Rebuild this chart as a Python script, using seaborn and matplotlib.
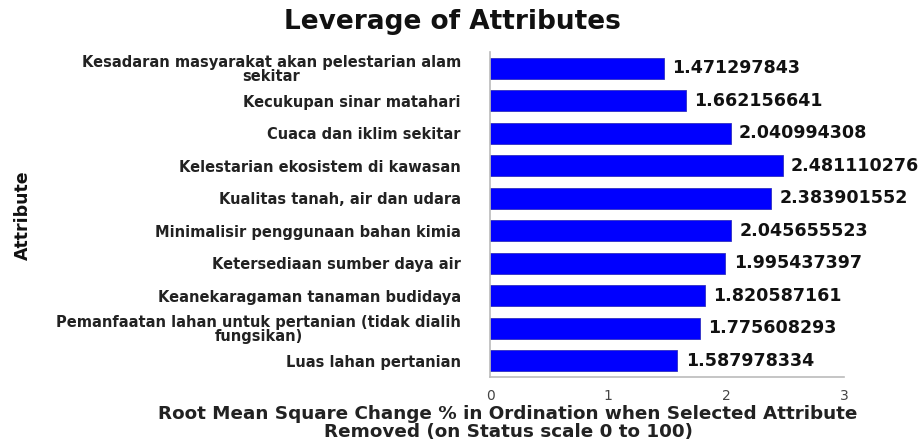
import matplotlib
matplotlib.use("Agg")
import matplotlib.pyplot as plt
import seaborn as sns
import pandas as pd

attributes = [
    "Kesadaran masyarakat akan pelestarian alam\nsekitar",
    "Kecukupan sinar matahari",
    "Cuaca dan iklim sekitar",
    "Kelestarian ekosistem di kawasan",
    "Kualitas tanah, air dan udara",
    "Minimalisir penggunaan bahan kimia",
    "Ketersediaan sumber daya air",
    "Keanekaragaman tanaman budidaya",
    "Pemanfaatan lahan untuk pertanian (tidak dialih\nfungsikan)",
    "Luas lahan pertanian",
]
values = [1.471297843, 1.662156641, 2.040994308, 2.481110276, 2.383901552,
          2.045655523, 1.995437397, 1.820587161, 1.775608293, 1.587978334]
value_labels = ["1.471297843", "1.662156641", "2.040994308", "2.481110276", "2.383901552",
                "2.045655523", "1.995437397", "1.820587161", "1.775608293", "1.587978334"]
x_ticks = [0, 1, 2, 3]

sns.set_theme(style="white")
plt.rcParams['font.family'] = ['DejaVu Sans']

df = pd.DataFrame({"Attribute": attributes, "Value": values})

fig = plt.figure(figsize=(9.22, 4.42), dpi=100)
ax = fig.add_axes([490/922, 1-377/442, (844-490)/922, (377-52)/442])
sns.barplot(data=df, x="Value", y="Attribute", orient="h", color="#0000FF",
            saturation=1, width=0.66, edgecolor="#3030C0", linewidth=0.6, ax=ax)

ax.set_xlim(0, 3)
ax.set_xticks(x_ticks)
ax.set_xticklabels([str(t) for t in x_ticks], fontsize=10, color="#444444")
ax.set_xlabel("")
ax.set_ylabel("")
ax.set_ylim(len(attributes) - 0.5, -0.5)

ax.set_yticks(range(len(attributes)))
ax.set_yticklabels(attributes, fontsize=10.5, fontweight="bold", color="#222222",
                   linespacing=0.95)
for lbl in ax.get_yticklabels():
    lbl.set_multialignment("center")
ax.tick_params(axis="y", length=0, pad=21)
ax.set_yticks([i + 0.5 for i in range(-1, len(attributes))], minor=True)
ax.tick_params(axis="y", which="minor", length=5, color="#BBBBBB", width=1, direction="out")
ax.tick_params(axis="x", length=5, color="#BBBBBB", width=1, direction="out", pad=4)

for s in ["top", "right"]:
    ax.spines[s].set_visible(False)
for s in ["left", "bottom"]:
    ax.spines[s].set_color("#BBBBBB")
    ax.spines[s].set_linewidth(1.2)

for i, (v, t) in enumerate(zip(values, value_labels)):
    ax.text(v + 0.07, i, t, va="center", ha="left", fontsize=12.6, fontweight="bold", color="#111111")

fig.text(452/922, 1-22/442, "Leverage of Attributes", ha="center", va="center",
         fontsize=19, fontweight="bold", color="#111111")
fig.text(508/922, 1-423/442,
         "Root Mean Square Change % in Ordination when Selected Attribute\nRemoved (on Status scale 0 to 100)",
         ha="center", va="center", fontsize=13.2, fontweight="bold", color="#222222",
         multialignment="center", linespacing=1.0)
fig.text(23/922, 1-215/442, "Attribute", rotation=90, ha="center", va="center",
         fontsize=12.5, fontweight="bold", color="#111111")

fig.savefig("out.png", dpi=100, facecolor="white")
